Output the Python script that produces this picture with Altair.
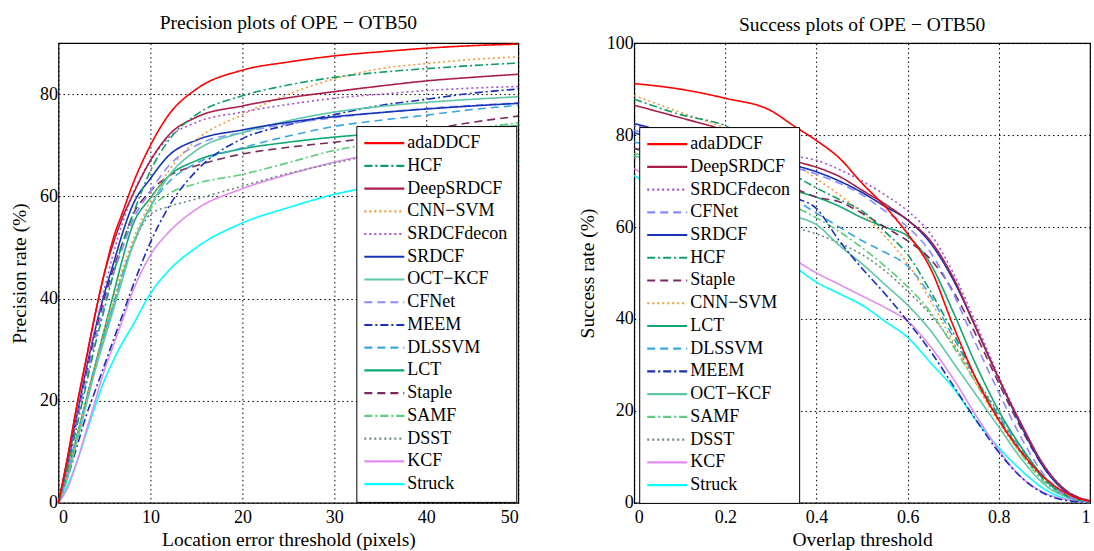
import altair as alt
import pandas as pd

FONT = "Liberation Serif"

# ---------------- precision plot (location error threshold, pixels) ----------------
PREC_X = [0, 1, 2, 3, 4, 5, 6, 7, 8, 10, 12, 15, 20, 25, 30, 35, 40, 45, 50]

P_ADADDCF = [0, 9, 19, 28, 37, 45, 52, 57, 62, 70, 76, 81, 84.7, 86.3, 87.5, 88.3, 89, 89.5, 89.8]
P_HCF = [0, 7, 15, 23, 31, 38, 45, 51, 56, 65, 71, 76, 79.7, 81.8, 83.3, 84.3, 85, 85.6, 86.1]
P_DEEPSRDCF = [0, 9, 19, 28, 37, 45, 51, 56, 60, 67, 72, 75.5, 77.7, 79.3, 80.5, 81.6, 82.6, 83.3, 83.9]
P_CNNSVM = [0, 6, 13, 20, 27, 34, 40, 46, 51, 59, 65, 71, 76, 80, 83, 85, 86, 86.8, 87.3]
P_SRDCFDECON = [0, 8, 17, 26, 34, 42, 49, 55, 60, 67, 71.5, 74.5, 76.5, 78, 79.2, 80, 80.7, 81.2, 81.5]
P_SRDCF = [0, 8, 17, 26, 34, 41, 47, 53, 58, 63.5, 68, 71, 73, 74.5, 75.6, 76.4, 77.1, 77.7, 78.2]
P_OCTKCF = [0, 5, 12, 19, 26, 32, 38, 44, 50, 58, 64, 69, 72.5, 74.8, 76.5, 77.6, 78.4, 79, 79.5]
P_CFNET = [0, 7, 16, 24, 32, 39, 45, 50, 55, 61, 66, 70, 72.5, 74.2, 75.4, 76.4, 77.2, 77.8, 78.3]
P_MEEM = [0, 5, 11, 17, 22, 27, 32, 37, 42, 51, 58, 65, 71.3, 74, 76, 77.8, 79, 80.2, 81]
P_DLSSVM = [0, 6, 13, 20, 27, 33, 39, 45, 50, 58, 62.8, 66.5, 69.5, 71.8, 73.7, 74.9, 75.9, 77, 77.8]
P_LCT = [0, 6, 13, 20, 27, 34, 41, 48, 54, 59.7, 64, 67, 69.3, 70.6, 71.6, 72.3, 72.9, 73.4, 73.8]
P_STAPLE = [0, 8, 16, 25, 33, 40, 46, 51, 56, 61, 64, 66, 68.3, 69.6, 70.6, 71.7, 73, 74.5, 75.7]
P_SAMF = [0, 6, 13, 20, 27, 33, 39, 45, 50, 57.5, 60.5, 62.5, 64.3, 66.6, 69, 70.5, 71.8, 73.2, 74.4]
P_DSST = [0, 6, 13, 20, 27, 33, 39, 45, 50, 56.5, 58, 59.5, 62, 64.5, 66.5, 68.5, 70.5, 71.8, 72.8]
P_KCF = [0, 3, 8, 14, 20, 26, 31, 36, 41, 48.5, 53, 57.5, 61.5, 64.3, 66.7, 68.5, 70, 71, 71.8]
P_STRUCK = [0, 3.5, 8, 13.5, 19, 24, 28, 31.5, 34.5, 41, 45.5, 50, 54.8, 57.8, 60.4, 62.2, 64, 65.6, 67]

# ---------------- success plot (overlap threshold) ----------------
SUCC_X = [0, 0.1, 0.2, 0.3, 0.35, 0.4, 0.45, 0.5, 0.55, 0.6, 0.65, 0.7, 0.75, 0.8, 0.85, 0.9, 0.95, 1.0]

S_ADADDCF = [91.2, 90, 88, 85.3, 82, 78.8, 75, 69.5, 64.5, 58.5, 51, 38.5, 27, 18, 11, 5.5, 2, 0.3]
S_DEEPSRDCF = [86.5, 83.8, 81, 77, 74.5, 73, 71, 68, 65, 61.5, 57, 49, 38, 27, 17, 8, 2.5, 0.5]
S_SRDCFDECON = [82, 80.5, 79, 77, 75.5, 74.5, 72.5, 70, 67, 63.5, 58.5, 50, 39, 27.5, 17, 8, 2.5, 0.5]
S_CFNET = [81, 79, 77, 74.5, 73, 71.5, 69.5, 67, 63.5, 60, 54.5, 45.5, 34.5, 24, 14, 6, 1.5, 0.2]
S_SRDCF = [82.5, 80, 78, 75, 73.5, 72, 70, 67.5, 64.5, 61.5, 56.5, 48.5, 38, 27, 16.5, 7.5, 2.2, 0.4]
S_HCF = [87.8, 84.5, 82, 76, 71.5, 68.5, 66, 63.5, 59, 54, 46, 37, 27, 18.5, 11, 5, 1.5, 0.2]
S_STAPLE = [77, 76, 74, 70.5, 68.5, 66.5, 65.5, 63, 60, 57, 53, 46, 36.5, 26, 16, 7.5, 2.5, 0.4]
S_CNNSVM = [88.6, 85, 81.5, 77, 74, 70.5, 67, 63, 58, 52, 44, 35, 26, 17.5, 10.5, 5, 1.5, 0.2]
S_LCT = [77, 75, 73, 70, 68, 66.5, 64.5, 62, 60, 58, 52, 41.5, 30, 20, 12, 5.5, 1.5, 0.2]
S_DLSSVM = [78.5, 76, 73, 68, 66, 63, 60, 57, 54.5, 51.5, 45, 36, 27, 19, 11.5, 5, 1.5, 0.2]
S_MEEM = [80.5, 77.5, 74, 69, 66.5, 64, 57, 51, 45.5, 39.5, 33, 25.5, 18, 11, 5.5, 2, 0.5, 0.1]
S_OCTKCF = [75.5, 73, 70, 65, 62.5, 60.5, 56, 52, 47.5, 43, 37.5, 30.5, 23.5, 16.5, 9.5, 4, 1.2, 0.2]
S_SAMF = [76, 74, 72, 67, 64.5, 62, 59, 55.5, 51.5, 47, 41.5, 34, 26, 18, 10.5, 4.5, 1.3, 0.2]
S_DSST = [75, 72, 68.5, 62, 60, 58.5, 56.5, 54, 50.5, 46, 41, 34.5, 27, 19.5, 12, 5.5, 1.5, 0.2]
S_KCF = [72.7, 67, 61.5, 56, 53, 50, 47.5, 45, 42.5, 39.5, 34, 27, 19, 11.5, 5.5, 2.2, 0.7, 0.1]
S_STRUCK = [71.2, 65, 60, 55, 51.5, 48, 45.5, 43, 39.5, 36, 30.5, 25, 18, 12, 7, 3, 0.8, 0.1]

# legend order of each panel
PREC_ORDER = ["adaDDCF", "HCF", "DeepSRDCF", "CNN−SVM", "SRDCFdecon", "SRDCF", "OCT−KCF",
              "CFNet", "MEEM", "DLSSVM", "LCT", "Staple", "SAMF", "DSST", "KCF", "Struck"]
SUCC_ORDER = ["adaDDCF", "DeepSRDCF", "SRDCFdecon", "CFNet", "SRDCF", "HCF", "Staple",
              "CNN−SVM", "LCT", "DLSSVM", "MEEM", "OCT−KCF", "SAMF", "DSST", "KCF", "Struck"]

PREC_SERIES = {
    "adaDDCF": P_ADADDCF, "HCF": P_HCF, "DeepSRDCF": P_DEEPSRDCF, "CNN−SVM": P_CNNSVM,
    "SRDCFdecon": P_SRDCFDECON, "SRDCF": P_SRDCF, "OCT−KCF": P_OCTKCF, "CFNet": P_CFNET,
    "MEEM": P_MEEM, "DLSSVM": P_DLSSVM, "LCT": P_LCT, "Staple": P_STAPLE, "SAMF": P_SAMF,
    "DSST": P_DSST, "KCF": P_KCF, "Struck": P_STRUCK,
}
SUCC_SERIES = {
    "adaDDCF": S_ADADDCF, "DeepSRDCF": S_DEEPSRDCF, "SRDCFdecon": S_SRDCFDECON, "CFNet": S_CFNET,
    "SRDCF": S_SRDCF, "HCF": S_HCF, "Staple": S_STAPLE, "CNN−SVM": S_CNNSVM, "LCT": S_LCT,
    "DLSSVM": S_DLSSVM, "MEEM": S_MEEM, "OCT−KCF": S_OCTKCF, "SAMF": S_SAMF, "DSST": S_DSST,
    "KCF": S_KCF, "Struck": S_STRUCK,
}

COLORS = {
    "adaDDCF": "#ff0000", "HCF": "#129c66", "DeepSRDCF": "#a81f48", "CNN−SVM": "#f39b3c",
    "SRDCFdecon": "#a64fd6", "SRDCF": "#1535b5", "OCT−KCF": "#5cc8a8", "CFNet": "#8a8aff",
    "MEEM": "#1a2fb8", "DLSSVM": "#3aa8dc", "LCT": "#10a870", "Staple": "#7a2a5e",
    "SAMF": "#5ccd78", "DSST": "#6e8a78", "KCF": "#e38cf0", "Struck": "#00ffff",
}
SOLID, DASHED, DOTTED, DASHDOT = [1, 0], [8, 5], [2, 3], [8, 3, 2, 3]
DASHES = {
    "adaDDCF": SOLID, "HCF": DASHDOT, "DeepSRDCF": SOLID, "CNN−SVM": DOTTED,
    "SRDCFdecon": DOTTED, "SRDCF": SOLID, "OCT−KCF": SOLID, "CFNet": DASHED,
    "MEEM": DASHDOT, "DLSSVM": DASHED, "LCT": SOLID, "Staple": DASHED,
    "SAMF": DASHDOT, "DSST": DOTTED, "KCF": SOLID, "Struck": SOLID,
}


def long_table(xs, series, order):
    rows = []
    # first legend entry is drawn last so it sits on top
    for name in reversed(order):
        for i, (x, v) in enumerate(zip(xs, series[name])):
            rows.append({"tracker": name, "x": x, "v": v, "i": i})
    return pd.DataFrame(rows)


def panel(df, order, xdom, xvals, ydom, yvals, xtitle, ytitle, title, w, h,
          lx, ly, toff, ytpad, xfmt):
    legend = alt.Legend(
        title=None, orient="none", legendX=lx, legendY=ly, direction="vertical",
        symbolType="M-5,0H5", symbolSize=64, symbolStrokeWidth=2.2,
        symbolOffset=11, labelOffset=14, labelFont=FONT, labelFontSize=18,
        labelColor="black", rowPadding=4.75, padding=8, strokeColor="black",
        fillColor="white", cornerRadius=0, labelLimit=300, symbolLimit=30,
    )
    return alt.Chart(df).mark_line(strokeWidth=1.6, interpolate="monotone").encode(
        x=alt.X("x:Q", scale=alt.Scale(domain=xdom, nice=False, zero=False),
                axis=alt.Axis(values=xvals, title=xtitle, format=xfmt)),
        y=alt.Y("v:Q", scale=alt.Scale(domain=ydom, nice=False),
                axis=alt.Axis(values=yvals, title=ytitle, titlePadding=ytpad)),
        color=alt.Color("tracker:N", legend=legend,
                        scale=alt.Scale(domain=order, range=[COLORS[t] for t in order])),
        strokeDash=alt.StrokeDash("tracker:N", legend=legend,
                                  scale=alt.Scale(domain=order, range=[DASHES[t] for t in order])),
        order="i:Q",
    ).properties(
        width=w, height=h,
        title=alt.TitleParams(title, font=FONT, fontSize=19.5, fontWeight="normal",
                              color="black", offset=toff),
    )


prec = panel(long_table(PREC_X, PREC_SERIES, PREC_ORDER), PREC_ORDER,
             [0, 50], [0, 10, 20, 30, 40, 50], [0, 90], [0, 20, 40, 60, 80],
             "Location error threshold (pixels)", "Precision rate (%)",
             "Precision plots of OPE − OTB50", 460, 460, 298, 83, 7, 9.5, "d")

succ = panel(long_table(SUCC_X, SUCC_SERIES, SUCC_ORDER), SUCC_ORDER,
             [0, 1], [0, 0.2, 0.4, 0.6, 0.8, 1], [0, 100], [0, 20, 40, 60, 80, 100],
             "Overlap threshold", "Success rate (%)",
             "Success plots of OPE − OTB50", 456, 460, 5, 84, -1, 9, ".1~f")

chart = alt.hconcat(prec, succ, spacing=116, bounds="flush").resolve_scale(
    color="independent", strokeDash="independent"
).resolve_legend(
    color="independent", strokeDash="independent"
).properties(
    padding={"left": 8.5, "top": 12, "right": 0, "bottom": 0},
    background="white",
).configure_view(
    stroke="black", strokeWidth=1.2
).configure_axis(
    grid=True, gridColor="black", gridDash=[1.5, 3], gridOpacity=1, gridWidth=1,
    domain=False, ticks=False, labelPadding=6,
    labelFont=FONT, labelFontSize=18, labelColor="black",
    titleFont=FONT, titleFontSize=19.5, titleFontWeight="normal", titleColor="black",
    titlePadding=4,
).configure_axisY(
    labelPadding=1,
)

chart.save("out.html", embed_options={"renderer": "svg", "actions": False})
